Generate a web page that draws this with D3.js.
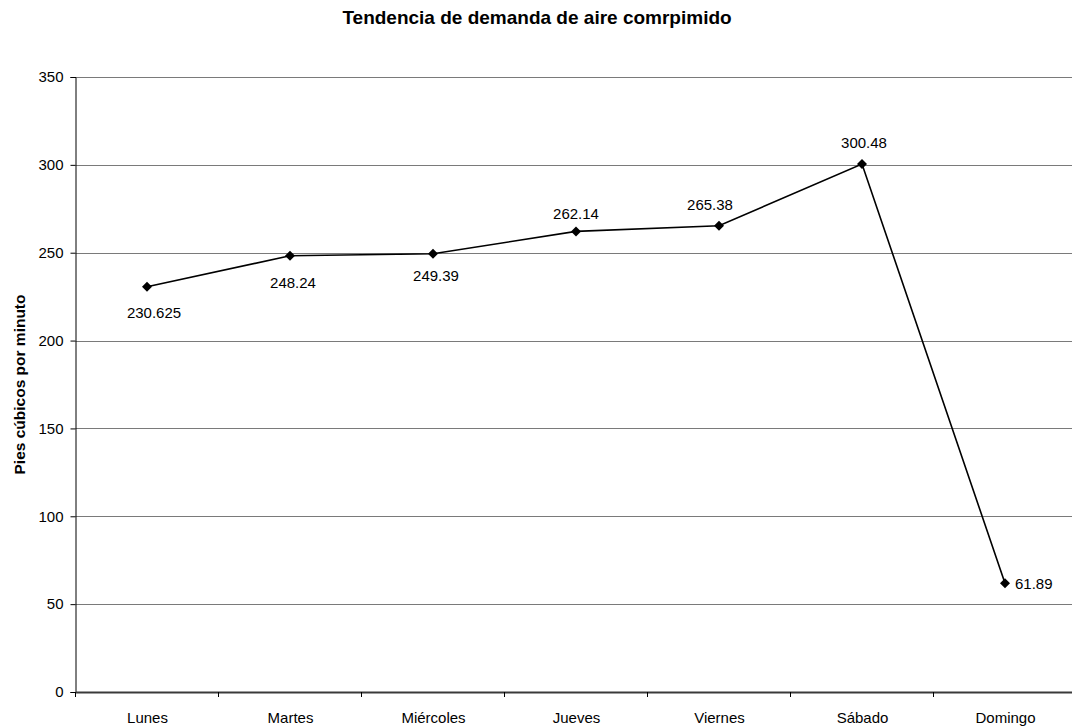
<!DOCTYPE html>
<html>
<head>
<meta charset="utf-8">
<script src="https://cdn.jsdelivr.net/npm/d3@7"></script>
<style>
  html, body { margin: 0; padding: 0; background: #fff; }
  svg { display: block; font-family: "Liberation Sans", Arial, sans-serif; }
</style>
</head>
<body>
<svg id="chart" width="1072" height="727"></svg>
<script>
// Demand per weekday (cubic feet per minute)
const days = ["Lunes", "Martes", "Miércoles", "Jueves", "Viernes", "Sábado", "Domingo"];
const demand = [230.625, 248.24, 249.39, 262.14, 265.38, 300.48, 61.89];
const demandLabels = ["230.625", "248.24", "249.39", "262.14", "265.38", "300.48", "61.89"];
const yTicks = [0, 50, 100, 150, 200, 250, 300, 350];

// Where each value label sits relative to its marker
const labelOffsets = [
  { dx: 7, dy: 26, anchor: "middle" },
  { dx: 3, dy: 27, anchor: "middle" },
  { dx: 3, dy: 22, anchor: "middle" },
  { dx: 0, dy: -18, anchor: "middle" },
  { dx: -9, dy: -21, anchor: "middle" },
  { dx: 2, dy: -21, anchor: "middle" },
  { dx: 10, dy: 0, anchor: "start" }
];

const svg = d3.select("#chart");
const plot = { left: 75.5, right: 1076.5, top: 77, bottom: 692 };

const x = d3.scalePoint().domain(days).range([plot.left, plot.right]).padding(0.5);
const y = d3.scaleLinear().domain([0, 350]).range([plot.bottom, plot.top]);
const step = x.step();

// Title
svg.append("text")
  .attr("x", 537).attr("y", 24)
  .attr("text-anchor", "middle")
  .attr("font-size", 19).attr("font-weight", "bold")
  .text("Tendencia de demanda de aire comrpimido");

// Horizontal gridlines
svg.append("g").selectAll("line")
  .data(yTicks.filter(d => d > 0))
  .join("line")
  .attr("x1", plot.left).attr("x2", plot.right)
  .attr("y1", d => Math.round(y(d)) + 0.5).attr("y2", d => Math.round(y(d)) + 0.5)
  .attr("stroke", "#7a7a7a").attr("stroke-width", 1);

// Y axis
const yAxis = d3.axisLeft(y).tickValues(yTicks).tickSize(5).tickPadding(7);
const gy = svg.append("g")
  .attr("transform", `translate(${plot.left},0)`)
  .call(yAxis);
gy.select(".domain").attr("stroke", "#000");
gy.selectAll(".tick line").attr("stroke", "#000");
gy.selectAll(".tick text")
  .attr("font-size", 15).attr("fill", "#000")
  .attr("font-family", "Liberation Sans, Arial, sans-serif");

// X axis: category labels centred on each day, tick marks between days
const gx = svg.append("g")
  .attr("transform", `translate(0,${plot.bottom})`)
  .call(d3.axisBottom(x).tickSize(0).tickPadding(20));
gx.select(".domain").attr("stroke", "#3a3a3a").attr("stroke-width", 2);
gx.selectAll(".tick text")
  .attr("font-size", 15).attr("fill", "#000")
  .attr("font-family", "Liberation Sans, Arial, sans-serif");

gx.append("g").selectAll("line")
  .data(d3.range(days.length + 1))
  .join("line")
  .attr("x1", i => x(days[0]) - step / 2 + i * step)
  .attr("x2", i => x(days[0]) - step / 2 + i * step)
  .attr("y1", 0).attr("y2", 5)
  .attr("stroke", "#000").attr("stroke-width", 1);

// Y axis title
svg.append("text")
  .attr("transform", `translate(25,${(plot.top + plot.bottom) / 2}) rotate(-90)`)
  .attr("text-anchor", "middle")
  .attr("font-size", 15.5).attr("font-weight", "bold")
  .text("Pies cúbicos por minuto");

// Demand line
const points = days.map((d, i) => ({ day: d, value: demand[i], label: demandLabels[i], off: labelOffsets[i] }));

svg.append("path")
  .datum(points)
  .attr("fill", "none")
  .attr("stroke", "#000")
  .attr("stroke-width", 1.6)
  .attr("d", d3.line().x(p => x(p.day)).y(p => y(p.value)));

// Diamond markers
svg.append("g").selectAll("path")
  .data(points)
  .join("path")
  .attr("transform", p => `translate(${x(p.day)},${y(p.value)})`)
  .attr("d", "M0,-5L5,0L0,5L-5,0Z")
  .attr("fill", "#000");

// Value labels
svg.append("g").selectAll("text")
  .data(points)
  .join("text")
  .attr("x", p => x(p.day) + p.off.dx)
  .attr("y", p => y(p.value) + p.off.dy)
  .attr("dy", "0.35em")
  .attr("text-anchor", p => p.off.anchor)
  .attr("font-size", 15)
  .attr("fill", "#000")
  .text(p => p.label);
</script>
</body>
</html>
